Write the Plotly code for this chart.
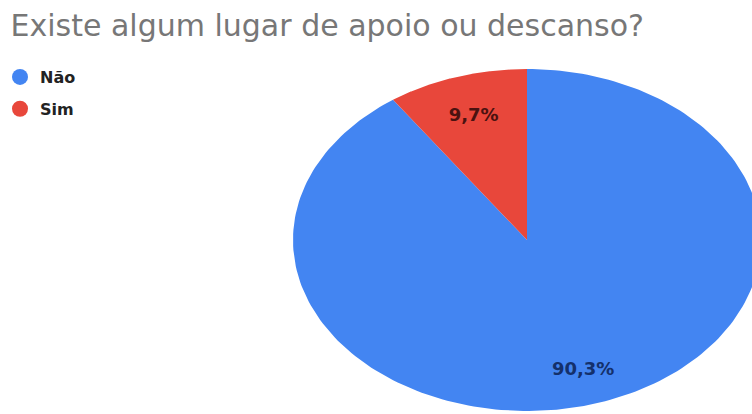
import numpy as np
import plotly.graph_objects as go

# Survey answers and their shares (%)
categories = ["Não", "Sim"]
shares = [90.3, 9.7]
slice_colors = ["#4385F2", "#E8473B"]
label_colors = ["#14306B", "#4A1210"]
title_text = "Existe algum lugar de apoio ou descanso?"

fig = go.Figure()

# Slices start at 12 o'clock and run clockwise; each one is a filled sector
fractions = np.array(shares) / np.sum(shares)
bounds = np.concatenate([[0.0], np.cumsum(fractions)]) * 2 * np.pi
label_radius = [0.80, 0.76]

for i, name in enumerate(categories):
    theta = np.linspace(bounds[i], bounds[i + 1], 240)
    xs = np.concatenate([[0.0], np.sin(theta), [0.0]])
    ys = np.concatenate([[0.0], np.cos(theta), [0.0]])
    fig.add_trace(go.Scatter(
        x=xs, y=ys, mode="lines", fill="toself",
        fillcolor=slice_colors[i], line=dict(width=0, color=slice_colors[i]),
        hoverinfo="skip", showlegend=False,
    ))

for i, name in enumerate(categories):
    mid = (bounds[i] + bounds[i + 1]) / 2
    r = label_radius[i]
    fig.add_trace(go.Scatter(
        x=[r * np.sin(mid)], y=[r * np.cos(mid)], mode="text",
        text=[f"{shares[i]:.1f}%".replace(".", ",")],
        textfont=dict(family="DejaVu Sans", size=18, color=label_colors[i],
                      weight="bold"),
        textposition="middle center",
        hoverinfo="skip", showlegend=False,
    ))

# Legend entries with round swatches
for i, name in enumerate(categories):
    fig.add_trace(go.Scatter(
        x=[None], y=[None], mode="markers", name=name,
        marker=dict(symbol="circle", size=17, color=slice_colors[i]),
        legendgroup=name,
    ))

# Unit circle is drawn as an ellipse: 234 px wide radius, 171 px tall radius
W, H = 752, 414
cx, cy, rx, ry = 527, 240, 234, 171
fig.update_layout(
    width=W, height=H,
    margin=dict(l=0, r=0, t=0, b=0),
    paper_bgcolor="white", plot_bgcolor="white",
    xaxis=dict(range=[-cx / rx, (W - cx) / rx], visible=False, fixedrange=True),
    yaxis=dict(range=[-(H - cy) / ry, cy / ry], visible=False, fixedrange=True),
    title=dict(
        text=title_text, x=0.014, xanchor="left", y=0.938, yanchor="middle",
        font=dict(family="DejaVu Sans", size=30, color="#777777"),
    ),
    legend=dict(
        x=0.0, xanchor="left", y=0.855, yanchor="top",
        font=dict(family="DejaVu Sans", size=16, color="#222222", weight="bold"),
        tracegroupgap=8, bgcolor="rgba(0,0,0,0)",
    ),
    showlegend=True,
)

fig.write_html("out.html")
